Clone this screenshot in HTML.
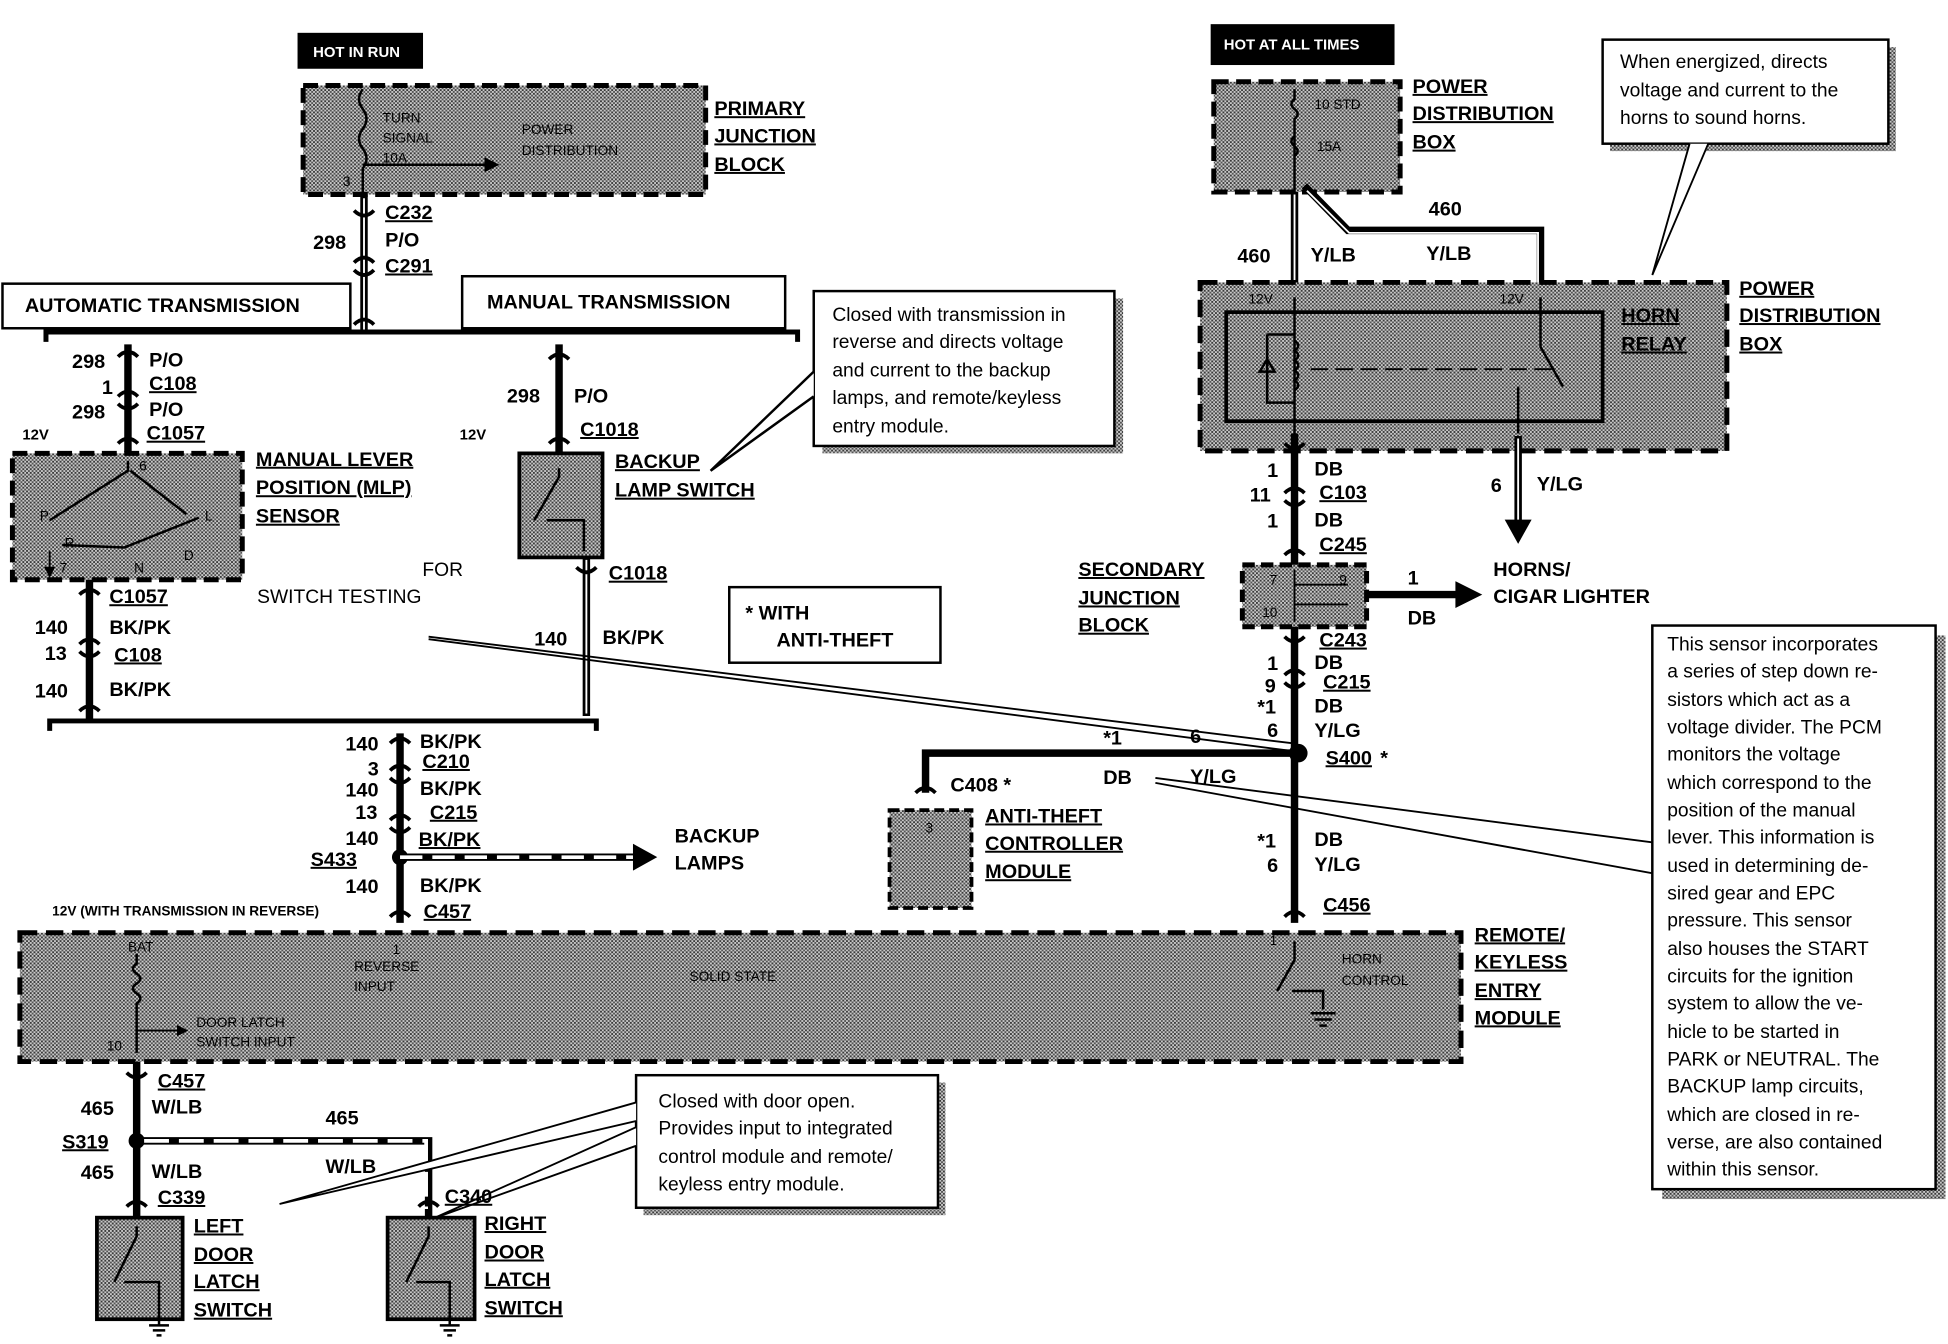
<!DOCTYPE html>
<html><head><meta charset="utf-8"><style>
html,body{margin:0;padding:0;background:#fff;}
svg{display:block;}
text{font-family:"Liberation Sans",Arial,sans-serif;font-weight:bold;font-size:16px;fill:#000;}
.s{font-size:11px;font-weight:normal;}
.n{font-weight:normal;font-size:15.5px;}
</style></head><body>
<svg width="1948" height="1344" viewBox="0 0 1568 1085" preserveAspectRatio="none" xmlns="http://www.w3.org/2000/svg">
<defs>
<pattern id="h" width="3" height="3" patternUnits="userSpaceOnUse">
<rect width="3" height="3" fill="#c8c8c8"/><rect width="1.5" height="1.5" fill="#3a3a3a"/><rect x="1.5" y="1.5" width="1.5" height="1.5" fill="#555"/>
</pattern>
<marker id="ar" markerWidth="6" markerHeight="6" refX="5" refY="3" orient="auto"><path d="M0,0 L6,3 L0,6z" fill="#000"/></marker>
</defs>
<g fill="none" stroke="#000">
<rect x="240" y="27" width="100" height="28" fill="#000"/>
<rect x="244" y="69" width="324" height="88" fill="url(#h)" stroke-width="4" stroke-dasharray="12,6"/>
<path d="M292,72 q-6,8 0,16 q6,8 0,16 q-6,8 0,16 q6,8 0,16 L292,157" stroke-width="2"/>
<line x1="292" y1="133" x2="400" y2="133" stroke-width="2" marker-end="url(#ar)"/>
<line x1="293" y1="157" x2="293" y2="268" stroke-width="6"/>
<line x1="293" y1="160" x2="293" y2="266" stroke="#fff" stroke-width="1.5"/>
<path d="M285,170 q8,8 16,0 M285,212 q8,-8 16,0 M285,218 q8,8 16,0 M285,262 q8,-8 16,0" stroke-width="3"/>
<rect x="2" y="229" width="280" height="36" stroke-width="2"/>
<rect x="372" y="223" width="260" height="42" stroke-width="2"/>
<path d="M37,276 L37,268 L642,268 L642,276" stroke-width="4"/>
<line x1="103" y1="278" x2="103" y2="365" stroke-width="6"/>
<path d="M95,288 q8,-8 16,0 M95,320 q8,-8 16,0 M95,326 q8,8 16,0 M95,358 q8,-8 16,0" stroke-width="3"/>
<rect x="10" y="366" width="185" height="102" fill="url(#h)" stroke-width="4" stroke-dasharray="12,6"/>
<path d="M103,372 L103,380 L40,420 M105,380 L150,415 M50,440 L100,442 L160,418" stroke-width="2"/>
<line x1="40" y1="445" x2="40" y2="465" stroke-width="1.5" marker-end="url(#ar)"/>
<line x1="72" y1="468" x2="72" y2="582" stroke-width="6"/>
<path d="M64,480 q8,-8 16,0 M64,520 q8,-8 16,0 M64,526 q8,8 16,0 M64,574 q8,-8 16,0" stroke-width="3"/>
<line x1="450" y1="278" x2="450" y2="365" stroke-width="6"/>
<path d="M442,290 q8,-8 16,0 M442,358 q8,-8 16,0" stroke-width="3"/>
<rect x="418" y="366" width="67" height="84" fill="url(#h)" stroke-width="3"/>
<path d="M450,378 L450,385 L430,420 M440,420 L470,420 L470,445" stroke-width="2"/>
<line x1="472" y1="450" x2="472" y2="578" stroke-width="6"/>
<line x1="472" y1="452" x2="472" y2="576" stroke="#fff" stroke-width="1.5"/>
<path d="M464,458 q8,8 16,0" stroke-width="3"/>
<rect x="662" y="241" width="242" height="125" fill="url(#h)" stroke="none"/>
<rect x="655" y="235" width="242" height="125" fill="#fff" stroke-width="2"/>
<path d="M655,300 L572,380 L655,320" stroke-width="2" fill="#fff"/>
<rect x="587" y="474" width="170" height="61" stroke-width="2"/>
<path d="M345,514 L1040,600 M345,516 L1038,606" stroke-width="1.5"/>
<path d="M930,628 L1330,680 M930,632 L1330,705" stroke-width="1.5"/>
<path d="M40,590 L40,582 L480,582 L480,590" stroke-width="4"/>
<line x1="322" y1="592" x2="322" y2="745" stroke-width="6"/>
<path d="M314,600 q8,-8 16,0 M314,622 q8,-8 16,0 M314,628 q8,8 16,0 M314,662 q8,-8 16,0 M314,668 q8,8 16,0 M314,740 q8,-8 16,0" stroke-width="3"/>
<circle cx="322" cy="692" r="6" fill="#000"/>
<line x1="322" y1="692" x2="510" y2="692" stroke-width="6"/>
<line x1="322" y1="692" x2="510" y2="692" stroke="#fff" stroke-width="3" stroke-dasharray="18,8"/>
<path d="M510,682 L528,692 L510,702z" fill="#000"/>
<rect x="16" y="753" width="1160" height="104" fill="url(#h)" stroke-width="4" stroke-dasharray="14,7"/>
<path d="M110,770 L110,778 q-6,4 0,8 q6,4 0,8 q-6,4 0,8 q6,4 0,8 L110,850" stroke-width="2"/>
<line x1="110" y1="832" x2="150" y2="832" stroke-width="1.5" marker-end="url(#ar)"/>
<path d="M1042,760 L1042,775 L1028,800 M1040,800 L1065,800 L1065,815" stroke-width="2"/>
<path d="M1055,818 h20 M1058,823 h14 M1062,828 h6" stroke-width="2"/>
<line x1="110" y1="857" x2="110" y2="982" stroke-width="6"/>
<path d="M102,866 q8,8 16,0 M102,974 q8,-8 16,0" stroke-width="3"/>
<circle cx="110" cy="921" r="6" fill="#000"/>
<path d="M110,921 L345,921 L345,982" stroke-width="6"/>
<path d="M116,921 L343,921 L343,976" stroke="#fff" stroke-width="3" stroke-dasharray="20,8"/>
<path d="M337,974 q8,-8 16,0" stroke-width="3"/>
<rect x="78" y="983" width="69" height="82" fill="url(#h)" stroke-width="3"/>
<path d="M110,990 L110,998 L92,1035 M100,1035 L128,1035 L128,1070 M120,1070 h16 M123,1074 h10 M126,1078 h4" stroke-width="2"/>
<rect x="312" y="983" width="70" height="82" fill="url(#h)" stroke-width="3"/>
<path d="M345,990 L345,998 L327,1035 M335,1035 L362,1035 L362,1070 M354,1070 h16 M357,1074 h10 M360,1078 h4" stroke-width="2"/>
<rect x="518" y="874" width="243" height="107" fill="url(#h)" stroke="none"/>
<rect x="512" y="868" width="243" height="107" fill="#fff" stroke-width="2"/>
<path d="M512,890 L225,972 L512,905 M512,910 L348,984 L512,925" stroke-width="1.5" fill="#fff"/>
<rect x="975" y="20" width="147" height="32" fill="#000"/>
<rect x="977" y="66" width="150" height="89" fill="url(#h)" stroke-width="4" stroke-dasharray="12,6"/>
<path d="M1042,72 L1042,80 q-5,4 0,8 q5,4 0,8 L1042,155 M1042,110 q-5,4 0,8 q5,4 0,8" stroke-width="2"/>
<rect x="1296" y="38" width="230" height="84" fill="url(#h)" stroke="none"/>
<rect x="1290" y="32" width="230" height="84" fill="#fff" stroke-width="2"/>
<path d="M1360,116 L1330,222 L1375,116" stroke-width="1.5" fill="#fff"/>
<line x1="1042" y1="155" x2="1042" y2="232" stroke-width="6"/>
<line x1="1042" y1="157" x2="1042" y2="230" stroke="#fff" stroke-width="1.5"/>
<path d="M1050,150 L1085,186 L1240,186 L1240,232" stroke-width="6"/>
<path d="M1052,154 L1086,188 L1238,188 L1238,230" stroke="#fff" stroke-width="1.5"/>
<rect x="966" y="228" width="424" height="136" fill="url(#h)" stroke-width="4" stroke-dasharray="14,7"/>
<rect x="987" y="252" width="303" height="88" stroke-width="3"/>
<path d="M1042,240 L1042,350 M1020,270 L1020,325 L1042,325 M1020,270 L1042,270 M1014,300 L1026,300 M1020,290 L1014,300 L1026,300z" stroke-width="2"/>
<path d="M1042,275 q6,4 0,8 q6,4 0,8 q6,4 0,8 q6,4 0,8 q6,4 0,8" stroke-width="2"/>
<path d="M1055,298 L1250,298" stroke-width="1.5" stroke-dasharray="14,6"/>
<path d="M1240,240 L1240,280 L1258,312 M1222,312 L1222,350" stroke-width="2"/>
<line x1="1042" y1="350" x2="1042" y2="456" stroke-width="6"/>
<path d="M1034,358 q8,8 16,0 M1034,398 q8,-8 16,0 M1034,404 q8,8 16,0 M1034,448 q8,-8 16,0" stroke-width="3"/>
<line x1="1222" y1="352" x2="1222" y2="420" stroke-width="6"/>
<line x1="1222" y1="354" x2="1222" y2="420" stroke="#fff" stroke-width="1.5"/>
<path d="M1212,420 L1222,438 L1232,420z" fill="#000"/>
<rect x="1000" y="456" width="100" height="50" fill="url(#h)" stroke-width="4" stroke-dasharray="10,5"/>
<path d="M1042,460 L1042,502 M1042,472 L1085,472 M1042,488 L1085,488" stroke-width="1.5"/>
<line x1="1100" y1="480" x2="1175" y2="480" stroke-width="6"/>
<path d="M1172,470 L1192,480 L1172,490z" fill="#000"/>
<line x1="1042" y1="506" x2="1042" y2="745" stroke-width="6"/>
<path d="M1034,514 q8,8 16,0 M1034,545 q8,-8 16,0 M1034,551 q8,8 16,0 M1034,740 q8,-8 16,0" stroke-width="3"/>
<circle cx="1045" cy="608" r="7" fill="#000"/>
<path d="M745,640 L745,608 L1045,608" stroke-width="6"/>
<path d="M737,640 q8,-8 16,0" stroke-width="3"/>
<rect x="716" y="654" width="66" height="79" fill="url(#h)" stroke-width="3" stroke-dasharray="8,4"/>
<rect x="1338" y="513" width="228" height="455" fill="url(#h)" stroke="none"/>
<rect x="1330" y="505" width="228" height="455" fill="#fff" stroke-width="2"/>
</g>
<text x="252" y="46" style="fill:#fff;font-size:12px">HOT IN RUN</text>
<text x="985" y="40" style="fill:#fff;font-size:12px">HOT AT ALL TIMES</text>
<g text-decoration="underline">
<text x="575" y="93">PRIMARY</text><text x="575" y="115">JUNCTION</text><text x="575" y="138">BLOCK</text>
<text x="310" y="177">C232</text><text x="310" y="220">C291</text>
<text x="120" y="315">C108</text><text x="118" y="355">C1057</text>
<text x="206" y="376">MANUAL LEVER</text><text x="206" y="399">POSITION (MLP)</text><text x="206" y="422">SENSOR</text>
<text x="467" y="352">C1018</text>
<text x="495" y="378">BACKUP</text><text x="495" y="401">LAMP SWITCH</text>
<text x="490" y="468">C1018</text>
<text x="88" y="487">C1057</text><text x="92" y="534">C108</text>
<text x="340" y="620">C210</text><text x="346" y="661">C215</text><text x="337" y="683">BK/PK</text>
<text x="341" y="741">C457</text>
<text x="127" y="878">C457</text><text x="127" y="972">C339</text><text x="358" y="971">C340</text>
<text x="156" y="995">LEFT</text><text x="156" y="1018">DOOR</text><text x="156" y="1040">LATCH</text><text x="156" y="1063">SWITCH</text>
<text x="390" y="993">RIGHT</text><text x="390" y="1016">DOOR</text><text x="390" y="1038">LATCH</text><text x="390" y="1061">SWITCH</text>
<text x="1137" y="75">POWER</text><text x="1137" y="97">DISTRIBUTION</text><text x="1137" y="120">BOX</text>
<text x="1305" y="260">HORN</text><text x="1305" y="283">RELAY</text>
<text x="1400" y="238">POWER</text><text x="1400" y="260">DISTRIBUTION</text><text x="1400" y="283">BOX</text>
<text x="1062" y="403">C103</text><text x="1062" y="445">C245</text>
<text x="868" y="465">SECONDARY</text><text x="868" y="488">JUNCTION</text><text x="868" y="510">BLOCK</text>
<text x="1062" y="522">C243</text><text x="1065" y="556">C215</text><text x="1067" y="617">S400</text>
<text x="793" y="664">ANTI-THEFT</text><text x="793" y="686">CONTROLLER</text><text x="793" y="709">MODULE</text>
<text x="1065" y="736">C456</text>
<text x="1187" y="760">REMOTE/</text><text x="1187" y="782">KEYLESS</text><text x="1187" y="805">ENTRY</text><text x="1187" y="827">MODULE</text>
<text x="50" y="927">S319</text>
<text x="250" y="699">S433</text>
</g>
<text x="1111" y="617">*</text>
<text x="252" y="201">298</text><text x="310" y="199">P/O</text>
<text x="20" y="252">AUTOMATIC TRANSMISSION</text>
<text x="392" y="249">MANUAL TRANSMISSION</text>
<text x="58" y="297">298</text><text x="120" y="296">P/O</text>
<text x="82" y="318">1</text>
<text x="58" y="338">298</text><text x="120" y="336">P/O</text>
<text x="18" y="355" style="font-size:12px">12V</text>
<text x="408" y="325">298</text><text x="462" y="325">P/O</text>
<text x="370" y="355" style="font-size:12px">12V</text>
<text x="340" y="465" class="n">FOR</text><text x="207" y="487" class="n">SWITCH TESTING</text>
<text x="28" y="512">140</text><text x="88" y="512">BK/PK</text>
<text x="36" y="533">13</text>
<text x="28" y="563">140</text><text x="88" y="562">BK/PK</text>
<text x="430" y="521">140</text><text x="485" y="520">BK/PK</text>
<text x="600" y="500">*  WITH</text><text x="625" y="522">ANTI-THEFT</text>
<text x="670" y="259" class="n">Closed with transmission in</text>
<text x="670" y="281" class="n">reverse and directs voltage</text>
<text x="670" y="304" class="n">and current to the backup</text>
<text x="670" y="326" class="n">lamps, and remote/keyless</text>
<text x="670" y="349" class="n">entry module.</text>
<text x="278" y="606">140</text><text x="338" y="604">BK/PK</text>
<text x="296" y="626">3</text>
<text x="278" y="643">140</text><text x="338" y="642">BK/PK</text>
<text x="286" y="661">13</text>
<text x="278" y="682">140</text>
<text x="543" y="680">BACKUP</text><text x="543" y="702">LAMPS</text>
<text x="278" y="721">140</text><text x="338" y="720">BK/PK</text>
<text x="42" y="739" style="font-size:11px">12V (WITH TRANSMISSION IN REVERSE)</text>
<text x="103" y="768" class="s">BAT</text>
<text x="316" y="770" class="s">1</text><text x="285" y="784" class="s">REVERSE</text><text x="285" y="800" class="s">INPUT</text>
<text x="555" y="792" class="s">SOLID STATE</text>
<text x="158" y="829" class="s">DOOR LATCH</text><text x="158" y="845" class="s">SWITCH INPUT</text>
<text x="86" y="848" class="s">10</text>
<text x="1022" y="763" class="s">1</text>
<text x="1080" y="778" class="s">HORN</text><text x="1080" y="795" class="s">CONTROL</text>
<text x="65" y="900">465</text><text x="122" y="899">W/LB</text>
<text x="262" y="908">465</text>
<text x="65" y="952">465</text><text x="122" y="951">W/LB</text>
<text x="262" y="947">W/LB</text>
<text x="530" y="894" class="n">Closed with door open.</text>
<text x="530" y="916" class="n">Provides input to integrated</text>
<text x="530" y="939" class="n">control module and remote/</text>
<text x="530" y="961" class="n">keyless entry module.</text>
<text x="308" y="99" class="s">TURN</text><text x="308" y="115" class="s">SIGNAL</text><text x="308" y="131" class="s">10A</text>
<text x="420" y="108" class="s">POWER</text><text x="420" y="125" class="s">DISTRIBUTION</text>
<text x="276" y="150" class="s">3</text>
<text x="1058" y="88" class="s">10 STD</text><text x="1060" y="122" class="s">15A</text>
<text x="1304" y="55" class="n">When energized, directs</text>
<text x="1304" y="78" class="n">voltage and current to the</text>
<text x="1304" y="100" class="n">horns to sound horns.</text>
<text x="1150" y="174">460</text>
<text x="996" y="212">460</text><text x="1055" y="211">Y/LB</text><text x="1148" y="210">Y/LB</text>
<text x="1005" y="245" class="s">12V</text><text x="1207" y="245" class="s">12V</text>
<text x="1020" y="385">1</text><text x="1058" y="384">DB</text>
<text x="1006" y="405">11</text>
<text x="1020" y="426">1</text><text x="1058" y="425">DB</text>
<text x="1200" y="397">6</text><text x="1237" y="396">Y/LG</text>
<text x="1202" y="465">HORNS/</text><text x="1202" y="487">CIGAR LIGHTER</text>
<text x="1133" y="472">1</text><text x="1133" y="504">DB</text>
<text x="1022" y="472" class="s">7</text><text x="1078" y="472" class="s">9</text><text x="1016" y="498" class="s">10</text>
<text x="1020" y="541">1</text><text x="1058" y="540">DB</text>
<text x="1018" y="559">9</text>
<text x="1012" y="576">*1</text><text x="1058" y="575">DB</text>
<text x="1020" y="595">6</text><text x="1058" y="595">Y/LG</text>
<text x="888" y="601">*1</text><text x="958" y="600">6</text>
<text x="888" y="633">DB</text><text x="958" y="632">Y/LG</text>
<text x="765" y="639">C408 *</text>
<text x="745" y="672" class="s">3</text>
<text x="1012" y="684">*1</text><text x="1058" y="683">DB</text>
<text x="1020" y="704">6</text><text x="1058" y="703">Y/LG</text>
<text x="1342" y="525" class="n">This sensor incorporates</text>
<text x="1342" y="547" class="n">a series of step down re-</text>
<text x="1342" y="570" class="n">sistors which act as a</text>
<text x="1342" y="592" class="n">voltage divider. The PCM</text>
<text x="1342" y="614" class="n">monitors the voltage</text>
<text x="1342" y="637" class="n">which correspond to the</text>
<text x="1342" y="659" class="n">position of the manual</text>
<text x="1342" y="681" class="n">lever. This information is</text>
<text x="1342" y="704" class="n">used in determining de-</text>
<text x="1342" y="726" class="n">sired gear and EPC</text>
<text x="1342" y="748" class="n">pressure. This sensor</text>
<text x="1342" y="771" class="n">also houses the START</text>
<text x="1342" y="793" class="n">circuits for the ignition</text>
<text x="1342" y="815" class="n">system to allow the ve-</text>
<text x="1342" y="838" class="n">hicle to be started in</text>
<text x="1342" y="860" class="n">PARK or NEUTRAL. The</text>
<text x="1342" y="882" class="n">BACKUP lamp circuits,</text>
<text x="1342" y="905" class="n">which are closed in re-</text>
<text x="1342" y="927" class="n">verse, are also contained</text>
<text x="1342" y="949" class="n">within this sensor.</text>
<text x="112" y="380" class="s">6</text><text x="32" y="420" class="s">P</text><text x="52" y="442" class="s">R</text><text x="108" y="462" class="s">N</text><text x="148" y="452" class="s">D</text><text x="165" y="420" class="s">L</text><text x="48" y="462" class="s">7</text>
</svg>
</body></html>
